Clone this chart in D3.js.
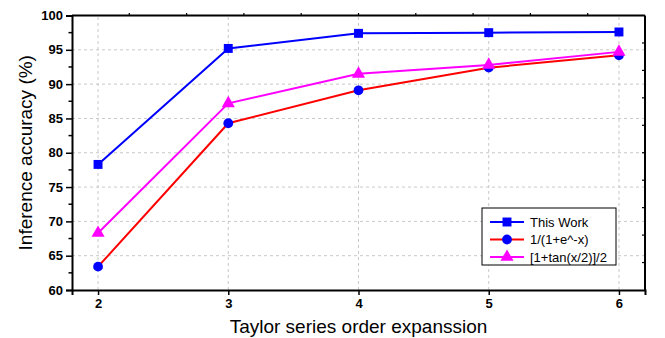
<!DOCTYPE html>
<html>
<head>
<meta charset="utf-8">
<script src="https://cdn.jsdelivr.net/npm/d3@7"></script>
<style>
  body { margin: 0; background: #fff; }
  text { font-family: "Liberation Sans", Arial, sans-serif; }
</style>
</head>
<body>
<svg id="chart" width="665" height="338"></svg>
<script>
/** data **/
var orders = [2, 3, 4, 5, 6];
var thisWork = [78.3, 95.2, 97.4, 97.5, 97.6];
var sigmoid = [63.4, 84.3, 89.1, 92.4, 94.2];
var tanHalf = [68.3, 87.2, 91.5, 92.8, 94.7];
var seriesNames = ["This Work", "1/(1+e^-x)", "[1+tan(x/2)]/2"];
var yTicks = [60, 65, 70, 75, 80, 85, 90, 95, 100];

var svg = d3.select("#chart");
var margin = {top: 15.5, right: 20, bottom: 48, left: 72};
var width = 665 - margin.left - margin.right;
var height = 338 - margin.top - margin.bottom;

var x = d3.scaleLinear().domain([1.8, 6.2]).range([margin.left, margin.left + width]);
var y = d3.scaleLinear().domain([60, 100]).range([margin.top + height, margin.top]);

/** dashed grid **/
svg.append("g").selectAll("line").data(orders).enter().append("line")
    .attr("x1", function (d){return x(d);}).attr("x2", function (d){return x(d);})
    .attr("y1", y(60)).attr("y2", y(100))
    .attr("stroke", "#c8c8c8").attr("stroke-dasharray", "3,3");
svg.append("g").selectAll("line").data(yTicks.slice(1, -1)).enter().append("line")
    .attr("y1", function (d){return y(d);}).attr("y2", function (d){return y(d);})
    .attr("x1", x(1.8)).attr("x2", x(6.2))
    .attr("stroke", "#c8c8c8").attr("stroke-dasharray", "3,3");

/** axes **/
var xAxis = svg.append("g")
    .attr("transform", "translate(0," + y(60) + ")")
    .call(d3.axisBottom(x).tickValues(orders).tickFormat(d3.format("d")).tickSize(5).tickPadding(4));
var yAxis = svg.append("g")
    .attr("transform", "translate(" + x(1.8) + ",0)")
    .call(d3.axisLeft(y).tickValues(yTicks).tickSize(6).tickPadding(3));
/** minor y ticks **/
svg.append("g").selectAll("line").data(d3.range(62.5, 100, 5)).enter().append("line")
    .attr("x1", x(1.8) - 3.5).attr("x2", x(1.8))
    .attr("y1", function (d){return y(d);}).attr("y2", function (d){return y(d);})
    .attr("stroke", "black").attr("stroke-width", 1.5);

[xAxis, yAxis].forEach(function (a){
    a.select(".domain").attr("stroke-width", 2).attr("stroke", "black");
    a.selectAll(".tick line").attr("stroke-width", 1.5);
    a.selectAll("text").style("font-size", "13px").style("font-weight", "bold").attr("fill", "black");
});

/** top and right frame with small ticks **/
svg.append("line").attr("x1", x(1.8)).attr("x2", x(6.2)).attr("y1", y(100)).attr("y2", y(100))
    .attr("stroke", "black").attr("stroke-width", 2);
svg.append("line").attr("x1", x(6.2)).attr("x2", x(6.2)).attr("y1", y(100)).attr("y2", y(60))
    .attr("stroke", "black").attr("stroke-width", 2);
var tenths = d3.range(1, 10).map(function (k){return k / 10;});
svg.append("g").selectAll("line").data(tenths).enter().append("line")
    .attr("x1", function (f){return x(1.8 + f * 4.4);}).attr("x2", function (f){return x(1.8 + f * 4.4);})
    .attr("y1", y(100) - 2.5).attr("y2", y(100))
    .attr("stroke", "black").attr("stroke-width", 1.2);
svg.append("g").selectAll("line").data(tenths).enter().append("line")
    .attr("y1", function (f){return y(60 + f * 40);}).attr("y2", function (f){return y(60 + f * 40);})
    .attr("x1", x(6.2) - 3).attr("x2", x(6.2))
    .attr("stroke", "black").attr("stroke-width", 1.2);

/** axis titles **/
svg.append("text")
    .attr("x", (x(1.8) + x(6.2)) / 2).attr("y", 333)
    .attr("text-anchor", "middle").style("font-size", "19px")
    .text("Taylor series order expanssion");
svg.append("text")
    .attr("transform", "translate(32," + (y(80)) + ") rotate(-90)")
    .attr("text-anchor", "middle").style("font-size", "19px")
    .text("Inference accuracy (%)");

/** series **/
var series = [
    {name: seriesNames[0], values: thisWork, line: "#0000ff", fill: "#0000ff", shape: d3.symbolSquare, size: 80},
    {name: seriesNames[1], values: sigmoid, line: "#ff0000", fill: "#0000ff", shape: d3.symbolCircle, size: 75},
    {name: seriesNames[2], values: tanHalf, line: "#ff00ff", fill: "#ff00ff", shape: d3.symbolTriangle, size: 75}
];
var line = d3.line().x(function (d, i){return x(orders[i]);}).y(function (d){return y(d);});

series.forEach(function (s){
    svg.append("path").datum(s.values)
        .attr("d", line).attr("fill", "none")
        .attr("stroke", s.line).attr("stroke-width", 2);
});
series.forEach(function (s){
    svg.append("g").selectAll("path").data(s.values).enter().append("path")
        .attr("d", d3.symbol().type(s.shape).size(s.size))
        .attr("transform", function (d, i){return "translate(" + x(orders[i]) + "," + y(d) + ")";})
        .attr("fill", s.fill);
});

/** legend **/
var legend = svg.append("g").attr("transform", "translate(482,208)");
legend.append("rect").attr("width", 134).attr("height", 57)
    .attr("fill", "white").attr("stroke", "black").attr("stroke-width", 1);
series.forEach(function (s, i){
    var ly = 14 + i * 17.5;
    legend.append("line").attr("x1", 8).attr("x2", 42).attr("y1", ly).attr("y2", ly)
        .attr("stroke", s.line).attr("stroke-width", 2);
    legend.append("path").attr("d", d3.symbol().type(s.shape).size(s.size))
        .attr("transform", "translate(25," + ly + ")").attr("fill", s.fill);
    legend.append("text").attr("x", 48).attr("y", ly).attr("dy", "0.35em")
        .style("font-size", "13px").text(s.name);
});
</script>
</body>
</html>
